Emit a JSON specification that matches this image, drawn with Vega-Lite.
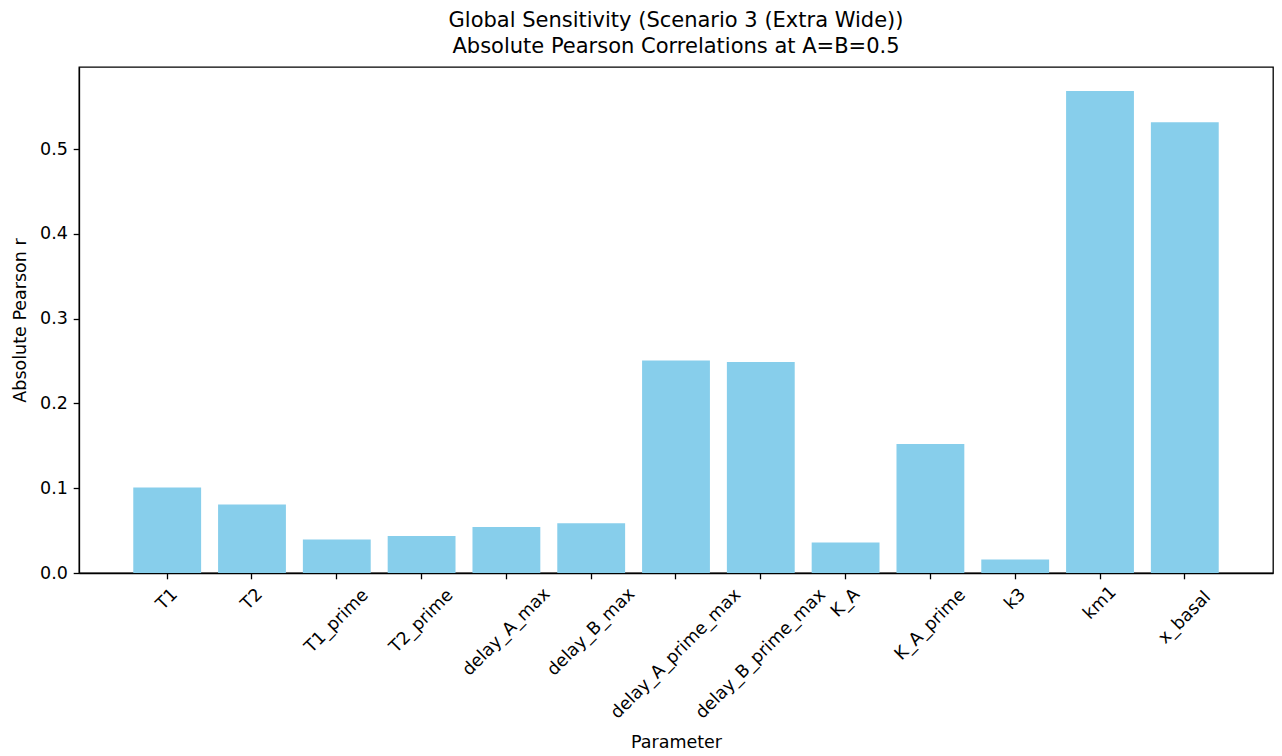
{
  "$schema": "https://vega.github.io/schema/vega-lite/v6.json",
  "width": 1194,
  "height": 506,
  "autosize": {"type": "none"},
  "padding": {"left": 79, "top": 67, "right": 9, "bottom": 183},
  "background": "white",
  "title": {
    "text": ["Global Sensitivity (Scenario 3 (Extra Wide))", "Absolute Pearson Correlations at A=B=0.5"],
    "font": "DejaVu Sans",
    "fontSize": 21,
    "fontWeight": "normal",
    "color": "black",
    "anchor": "middle",
    "frame": "group",
    "baseline": "top",
    "lineHeight": 26,
    "offset": 10.3
  },
  "data": {
    "values": [
      {"Parameter": "T1", "r": 0.1007},
      {"Parameter": "T2", "r": 0.0807},
      {"Parameter": "T1_prime", "r": 0.0394},
      {"Parameter": "T2_prime", "r": 0.0436},
      {"Parameter": "delay_A_max", "r": 0.0542},
      {"Parameter": "delay_B_max", "r": 0.0586},
      {"Parameter": "delay_A_prime_max", "r": 0.2505},
      {"Parameter": "delay_B_prime_max", "r": 0.2488},
      {"Parameter": "K_A", "r": 0.0360},
      {"Parameter": "K_A_prime", "r": 0.1521},
      {"Parameter": "k3", "r": 0.0159},
      {"Parameter": "km1", "r": 0.5684},
      {"Parameter": "x_basal", "r": 0.5315}
    ]
  },
  "config": {
    "view": {"stroke": "black", "strokeWidth": 1.3},
    "axis": {
      "grid": false,
      "zindex": 1,
      "domainColor": "black",
      "domainWidth": 1.3,
      "tickColor": "black",
      "tickWidth": 1.3,
      "tickSize": 5.8,
      "labelPadding": 5.8,
      "labelFont": "DejaVu Sans",
      "labelFontSize": 17.5,
      "labelColor": "black",
      "labelFlush": false,
      "labelOverlap": false,
      "titleFont": "DejaVu Sans",
      "titleFontSize": 17.5,
      "titleFontWeight": "normal",
      "titleColor": "black"
    }
  },
  "layer": [
    {
      "mark": {"type": "bar", "color": "#87CEEB"},
      "encoding": {
        "x": {
          "field": "Parameter",
          "type": "nominal",
          "sort": null,
          "scale": {"paddingInner": 0.2, "paddingOuter": 0.64},
          "axis": {"labels": false, "title": "Parameter", "titlePadding": 154}
        },
        "y": {
          "field": "r",
          "type": "quantitative",
          "scale": {"domain": [0, 0.5968], "nice": false, "zero": true},
          "axis": {"values": [0, 0.1, 0.2, 0.3, 0.4, 0.5], "format": ".1f", "title": "Absolute Pearson r", "titlePadding": 10.4}
        }
      }
    },
    {
      "mark": {
        "type": "text",
        "angle": 315,
        "align": "center",
        "baseline": "middle",
        "font": "DejaVu Sans",
        "fontSize": 17.5,
        "color": "black",
        "dx": {"expr": "-0.707 * (19.2 + 3.64 * length(datum.Parameter))"},
        "dy": {"expr": "0.707 * (19.2 + 3.64 * length(datum.Parameter))"}
      },
      "encoding": {
        "x": {"field": "Parameter", "type": "nominal", "sort": null},
        "y": {"datum": 0, "type": "quantitative"},
        "text": {"field": "Parameter"}
      }
    }
  ]
}
